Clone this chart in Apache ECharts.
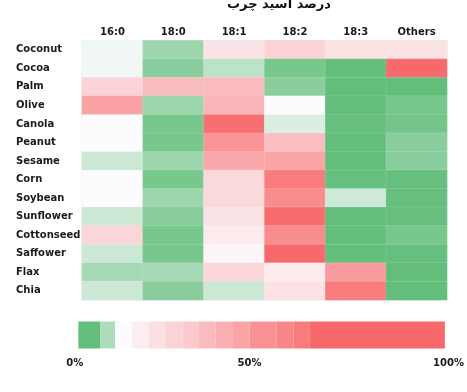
<!DOCTYPE html>
<html>
<head>
<meta charset="utf-8">
<script src="https://cdn.jsdelivr.net/npm/echarts@6/dist/echarts.min.js"></script>
<style>html,body{margin:0;padding:0;background:#fff}#c{width:467px;height:392px}</style>
</head>
<body>
<div id="c"></div>
<script>
// Categories
const titleText = 'درصد اسید چرب';
const oils = ['Coconut','Cocoa','Palm','Olive','Canola','Peanut','Sesame','Corn','Soybean','Sunflower','Cottonseed','Saffower','Flax','Chia'];
const acids = ['16:0','18:0','18:1','18:2','18:3','Others'];
// Colour-scale position of each cell (0 = green, 50 = white, 100 = red), per column
const c16_0  = [46, 46, 64, 81, 50, 50, 34, 50, 50, 34, 63, 34, 22, 34];
const c18_0  = [19, 12, 72, 19,  7,  7, 19,  7, 19, 12,  7,  7, 22, 12];
const c18_1  = [58, 29, 72, 74, 98, 85, 79, 62, 62, 59, 56, 52, 63, 34];
const c18_2  = [64,  7, 13, 50, 39, 71, 80, 94, 88, 99, 88,100, 56, 59];
const c18_3  = [59,  0,  0,  0,  1,  0,  0,  1, 35,  0,  0,  0, 83, 94];
const cOther = [59,100,  0,  7,  6, 13, 13,  1,  1,  1,  7,  1,  0,  0];
// Colour legend: segment edges (percent of bar) and their colour-scale positions
const legendEdges  = [0, 5.9, 10, 14.5, 19.2, 23.9, 28.4, 32.9, 37.4, 42.2, 46.7, 54.1, 58.7, 63, 100];
const legendValues = [0, 24, 50, 55, 60, 64, 67, 72, 76, 80, 86, 90, 94, 100];
const legendTicks = ['0%', '50%', '100%'];

const columns = [c16_0, c18_0, c18_1, c18_2, c18_3, cOther];
const heatData = [];
columns.forEach((col, ci) => col.forEach((v, ri) => heatData.push([ci, ri, v])));
const legendData = legendValues.map((v, i) => [legendEdges[i], legendEdges[i + 1], v]);
const tickPos = [-1, 46.7, 101];

const labelFont = { fontFamily: 'DejaVu Sans', fontWeight: 'bold', fontSize: 10, color: '#1a1a1a' };

const chart = echarts.init(document.getElementById('c'), null, { renderer: 'canvas' });
chart.setOption({
  animation: false,
  backgroundColor: '#fff',
  title: {
    text: titleText, left: 222, top: -7,
    textStyle: { fontFamily: 'DejaVu Sans', fontWeight: 'bold', fontSize: 13, color: '#111' }
  },
  grid: [
    { left: 82, top: 40.5, width: 365, height: 259.5, show: true, borderColor: '#e4e4e4', borderWidth: 1, backgroundColor: 'transparent' },
    { left: 74.7, top: 321.5, width: 375, height: 27 }
  ],
  xAxis: [
    { type: 'category', gridIndex: 0, data: acids, position: 'top',
      axisLine: { show: false }, axisTick: { show: false }, splitLine: { show: false },
      axisLabel: Object.assign({ margin: 3 }, labelFont) },
    { type: 'value', gridIndex: 1, min: -1, max: 101,
      axisLine: { show: false }, axisTick: { show: false }, splitLine: { show: false },
      axisLabel: Object.assign({ margin: 10, customValues: tickPos, showMinLabel: true, showMaxLabel: true,
        formatter: (v) => legendTicks[tickPos.indexOf(v)] || '' }, labelFont) }
  ],
  yAxis: [
    { type: 'category', gridIndex: 0, data: oils, inverse: true,
      axisLine: { show: false }, axisTick: { show: false }, splitLine: { show: false },
      axisLabel: Object.assign({ margin: 66, align: 'left' }, labelFont) },
    { type: 'value', gridIndex: 1, min: 0, max: 1, show: false }
  ],
  visualMap: {
    show: false, type: 'continuous', min: 0, max: 100, dimension: 2, seriesIndex: [0, 1],
    inRange: { color: ['#63be7b', '#fcfcff', '#f8696b'] }
  },
  series: [
    { type: 'heatmap', xAxisIndex: 0, yAxisIndex: 0, data: heatData,
      itemStyle: { borderColor: 'rgba(255,255,255,0.25)', borderWidth: 0.5 },
      emphasis: { disabled: true }, label: { show: false } },
    { type: 'custom', xAxisIndex: 1, yAxisIndex: 1, data: legendData,
      encode: { x: [0, 1] },
      renderItem: function (params, api) {
        const s = api.coord([api.value(0), 0]);
        const e = api.coord([api.value(1), 1]);
        return { type: 'rect',
          shape: { x: s[0], y: e[1], width: e[0] - s[0], height: s[1] - e[1] },
          style: { fill: api.visual('color'), stroke: null } };
      } }
  ]
});
</script>
</body>
</html>
